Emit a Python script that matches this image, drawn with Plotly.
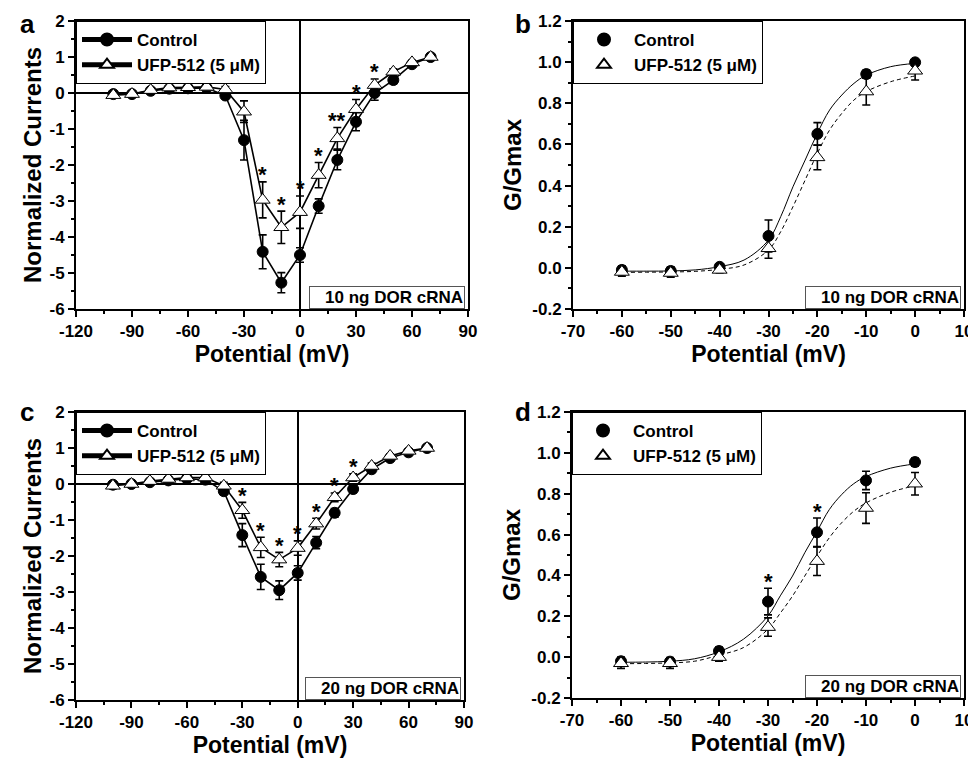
import plotly.graph_objects as go

FONT = "Liberation Sans, Arial, sans-serif"

# ---------------- data ----------------
# I-V relationships (panels a and c)
iv_v = [-100, -90, -80, -70, -60, -50, -40, -30, -20, -10, 0, 10, 20, 30, 40, 50, 60, 70]

a_ctrl = [-0.03, -0.03, 0.06, 0.12, 0.13, 0.14, -0.07, -1.31, -4.41, -5.27, -4.50, -3.14, -1.86, -0.80, 0.00, 0.36, 0.80, 1.00]
a_ctrl_err = [0.08, 0.08, 0.06, 0.06, 0.06, 0.06, 0.08, 0.55, 0.47, 0.28, 0.20, 0.20, 0.27, 0.25, 0.20, 0.10, 0.06, 0.00]
a_ufp = [-0.06, -0.03, 0.08, 0.15, 0.16, 0.17, 0.10, -0.52, -2.97, -3.73, -3.31, -2.28, -1.26, -0.45, 0.22, 0.59, 0.85, 1.00]
a_ufp_err = [0.06, 0.06, 0.05, 0.05, 0.05, 0.05, 0.08, 0.30, 0.50, 0.45, 0.45, 0.35, 0.30, 0.27, 0.17, 0.08, 0.05, 0.00]
a_star_v = [-20, -10, 0, 10, 20, 30, 40]
a_star_txt = ["*", "*", "*", "*", "**", "*", "*"]

c_ctrl = [-0.02, 0.00, 0.05, 0.10, 0.15, 0.12, -0.20, -1.42, -2.58, -2.95, -2.47, -1.63, -0.80, -0.14, 0.41, 0.72, 0.88, 1.00]
c_ctrl_err = [0.08, 0.08, 0.06, 0.06, 0.06, 0.06, 0.10, 0.32, 0.35, 0.26, 0.20, 0.17, 0.12, 0.10, 0.08, 0.06, 0.05, 0.00]
c_ufp = [-0.05, 0.00, 0.08, 0.14, 0.18, 0.18, -0.05, -0.73, -1.76, -2.10, -1.78, -1.10, -0.37, 0.18, 0.50, 0.78, 0.92, 1.00]
c_ufp_err = [0.08, 0.06, 0.05, 0.05, 0.05, 0.05, 0.10, 0.22, 0.28, 0.20, 0.20, 0.15, 0.12, 0.10, 0.08, 0.06, 0.05, 0.00]
c_star_v = [-30, -20, -10, 0, 10, 20, 30]
c_star_txt = ["*", "*", "*", "*", "*", "*", "*"]

# conductance (panels b and d)
g_v = [-60, -50, -40, -30, -20, -10, 0]

b_ctrl = [-0.010, -0.015, 0.005, 0.155, 0.651, 0.942, 0.999]
b_ctrl_err = [0.020, 0.020, 0.015, 0.078, 0.055, 0.020, 0.010]
b_ufp = [-0.020, -0.025, -0.010, 0.095, 0.537, 0.857, 0.958]
b_ufp_err = [0.020, 0.020, 0.015, 0.048, 0.060, 0.065, 0.045]

d_ctrl = [-0.020, -0.022, 0.030, 0.272, 0.611, 0.865, 0.955]
d_ctrl_err = [0.020, 0.020, 0.020, 0.065, 0.070, 0.045, 0.020]
d_ufp = [-0.030, -0.030, 0.000, 0.147, 0.470, 0.730, 0.849]
d_ufp_err = [0.025, 0.025, 0.020, 0.045, 0.070, 0.075, 0.055]
d_star_v = [-30, -20]
d_star_txt = ["*", "*"]

# Boltzmann fit curves
fit_v = [-61, -60, -55, -50, -45, -40, -35, -30, -27.5, -25, -22.5, -20, -17.5, -15, -12.5, -10, -5, 0]
b_fit_ctrl = [-0.016, -0.016, -0.016, -0.015, -0.010, 0.006, 0.038, 0.135, 0.249, 0.394, 0.524, 0.654, 0.767, 0.840, 0.897, 0.937, 0.978, 0.994]
b_fit_ufp = [-0.022, -0.022, -0.021, -0.020, -0.017, -0.007, 0.014, 0.087, 0.176, 0.297, 0.427, 0.557, 0.670, 0.751, 0.816, 0.857, 0.905, 0.933]
d_fit_ctrl = [-0.025, -0.025, -0.024, -0.020, -0.008, 0.026, 0.088, 0.202, 0.300, 0.397, 0.511, 0.615, 0.722, 0.795, 0.849, 0.884, 0.925, 0.946]
d_fit_ufp = [-0.032, -0.032, -0.031, -0.028, -0.020, 0.010, 0.047, 0.137, 0.215, 0.299, 0.397, 0.494, 0.584, 0.657, 0.714, 0.755, 0.807, 0.839]

# ticks
iv_xticks = [-120, -90, -60, -30, 0, 30, 60, 90]
iv_xlabels = ["-120", "-90", "-60", "-30", "0", "30", "60", "90"]
iv_yticks = [-6, -5, -4, -3, -2, -1, 0, 1, 2]
iv_ylabels = ["-6", "-5", "-4", "-3", "-2", "-1", "0", "1", "2"]
g_xticks = [-70, -60, -50, -40, -30, -20, -10, 0, 10]
g_xlabels = ["-70", "-60", "-50", "-40", "-30", "-20", "-10", "0", "10"]
g_yticks = [-0.2, 0.0, 0.2, 0.4, 0.6, 0.8, 1.0, 1.2]
g_ylabels = ["-0.2", "0.0", "0.2", "0.4", "0.6", "0.8", "1.0", "1.2"]

names = ["Control", "UFP-512 (5 μM)"]
dose_labels = ["10 ng DOR cRNA", "20 ng DOR cRNA"]
panel_letters = ["a", "b", "c", "d"]

# ---------------- figure ----------------
OFF = 8  # page body margin
W, H = 976 - OFF, 758 - OFF
fig = go.Figure()

def px_x(p):
    return (p - OFF) / W

def px_y(p):
    return 1 - (p - OFF) / H

doms = {
    "a": ([px_x(76), px_x(468)], [px_y(309), px_y(21)]),
    "b": ([px_x(573), px_x(964)], [px_y(309), px_y(21)]),
    "c": ([px_x(76), px_x(464)], [px_y(700), px_y(412)]),
    "d": ([px_x(572), px_x(964)], [px_y(698), px_y(412)]),
}
axis_ids = {"a": ("x", "y"), "b": ("x2", "y2"), "c": ("x3", "y3"), "d": ("x4", "y4")}
legend_ids = {"a": "legend", "b": "legend2", "c": "legend3", "d": "legend4"}

err_style = dict(type="data", thickness=1.6, width=4, color="black")

def add_series(panel, xs, ys, errs, name, ctrl, lines):
    xa, ya = axis_ids[panel]
    if ctrl:
        marker = dict(symbol="circle", size=11, color="black", line=dict(color="black", width=1))
    else:
        marker = dict(symbol="triangle-up", size=13, color="white", line=dict(color="black", width=1))
    fig.add_trace(go.Scatter(
        x=xs, y=ys, mode="lines+markers" if lines else "markers",
        name=name, marker=marker,
        line=dict(color="black", width=1.6),
        error_y=dict(array=errs, **err_style),
        xaxis=xa, yaxis=ya, legend=legend_ids[panel], showlegend=True,
    ))

def add_fit(panel, xs, ys, dash):
    xa, ya = axis_ids[panel]
    fig.add_trace(go.Scatter(
        x=xs, y=ys, mode="lines", line=dict(color="black", width=1, dash=dash, shape="spline"),
        xaxis=xa, yaxis=ya, showlegend=False, hoverinfo="skip",
    ))

def add_stars(panel, vs, txts, xs, c, ce, u, ue):
    xa, ya = axis_ids[panel]
    for v, t in zip(vs, txts):
        i = xs.index(v)
        top = max(c[i] + ce[i], u[i] + ue[i])
        fig.add_annotation(x=v, y=top, xref=xa, yref=ya, text=t, showarrow=False,
                           yanchor="middle", yshift=7,
                           font=dict(family=FONT, size=22, color="black", weight="bold"))

# panel a
add_series("a", iv_v, a_ctrl, a_ctrl_err, names[0], True, True)
add_series("a", iv_v, a_ufp, a_ufp_err, names[1], False, True)
add_stars("a", a_star_v, a_star_txt, iv_v, a_ctrl, a_ctrl_err, a_ufp, a_ufp_err)
# panel c
add_series("c", iv_v, c_ctrl, c_ctrl_err, names[0], True, True)
add_series("c", iv_v, c_ufp, c_ufp_err, names[1], False, True)
add_stars("c", c_star_v, c_star_txt, iv_v, c_ctrl, c_ctrl_err, c_ufp, c_ufp_err)
# panel b
add_fit("b", fit_v, b_fit_ctrl, "solid")
add_fit("b", fit_v, b_fit_ufp, "4px,3px")
add_series("b", g_v, b_ctrl, b_ctrl_err, names[0], True, False)
add_series("b", g_v, b_ufp, b_ufp_err, names[1], False, False)
# panel d
add_fit("d", fit_v, d_fit_ctrl, "solid")
add_fit("d", fit_v, d_fit_ufp, "4px,3px")
add_series("d", g_v, d_ctrl, d_ctrl_err, names[0], True, False)
add_series("d", g_v, d_ufp, d_ufp_err, names[1], False, False)
add_stars("d", d_star_v, d_star_txt, g_v, d_ctrl, d_ctrl_err, d_ufp, d_ufp_err)

tick_font = dict(family=FONT, size=17, color="black", weight="bold")
ytitle_font = dict(family=FONT, size=24, color="black", weight="bold")
xtitle_font = dict(family=FONT, size=23, color="black", weight="bold")

def axis(dom, rng, tv, tt, minor_dtick, title, tfont, anchor, zero, standoff):
    return dict(
        domain=dom, range=rng, anchor=anchor, tickmode="array", tickvals=tv, ticktext=tt,
        ticks="outside", ticklen=6, tickwidth=2, tickcolor="black",
        minor=dict(ticks="outside", ticklen=3, tickwidth=2, tickcolor="black",
                   tick0=0, dtick=minor_dtick),
        showline=True, linewidth=2, linecolor="black", mirror=True,
        showgrid=False, zeroline=zero, zerolinecolor="black", zerolinewidth=1.5,
        tickfont=tick_font, title=dict(text=title, font=tfont, standoff=standoff),
        automargin=False, fixedrange=True,
    )

layout = {}
for p, (xa, ya) in axis_ids.items():
    xk = "xaxis" if xa == "x" else "xaxis" + xa[1:]
    yk = "yaxis" if ya == "y" else "yaxis" + ya[1:]
    iv = p in ("a", "c")
    if iv:
        layout[xk] = axis(doms[p][0], [-120, 90], iv_xticks, iv_xlabels, 15, "Potential (mV)", xtitle_font, ya, True, 4)
        layout[yk] = axis(doms[p][1], [-6, 2], iv_yticks, iv_ylabels, 0.5, "Normalized Currents", ytitle_font, xa, True, 1)
    else:
        layout[xk] = axis(doms[p][0], [-70, 10], g_xticks, g_xlabels, 5, "Potential (mV)", xtitle_font, ya, False, 4)
        layout[yk] = axis(doms[p][1], [-0.2, 1.2], g_yticks, g_ylabels, 0.1, "G/Gmax", ytitle_font, xa, False, 4)
    layout[legend_ids[p]] = dict(
        x=doms[p][0][0], y=doms[p][1][1], xanchor="left", yanchor="top",
        bgcolor="white", bordercolor="black", borderwidth=1,
        font=dict(family=FONT, size=17, color="black", weight="bold"),
        tracegroupgap=0, itemsizing="constant", itemwidth=50,
    )

fig.update_layout(**layout)
fig.update_layout(template="none", width=W, height=H, margin=dict(l=0, r=0, t=0, b=0),
                  paper_bgcolor="white", plot_bgcolor="white")

# dose boxes
for p, lab in zip(["a", "b", "c", "d"], [dose_labels[0], dose_labels[0], dose_labels[1], dose_labels[1]]):
    xa, ya = axis_ids[p]
    fig.add_annotation(x=0.993, y=0.0, xref=xa + " domain", yref=ya + " domain",
                       xanchor="right", yanchor="bottom", text=lab, showarrow=False,
                       width=152, align="right", bordercolor="#555", borderwidth=1,
                       borderpad=1, bgcolor="white",
                       font=dict(family=FONT, size=17, color="black", weight="bold"))

# panel letters
letter_pos = {"a": (27, 24), "b": (523, 24), "c": (27, 412), "d": (523, 412)}
for p in panel_letters:
    lx, ly = letter_pos[p]
    fig.add_annotation(x=px_x(lx), y=px_y(ly), xref="paper", yref="paper", text=p,
                       showarrow=False, xanchor="center", yanchor="middle",
                       font=dict(family=FONT, size=26, color="black", weight="bold"))

fig.write_html("out.html")
